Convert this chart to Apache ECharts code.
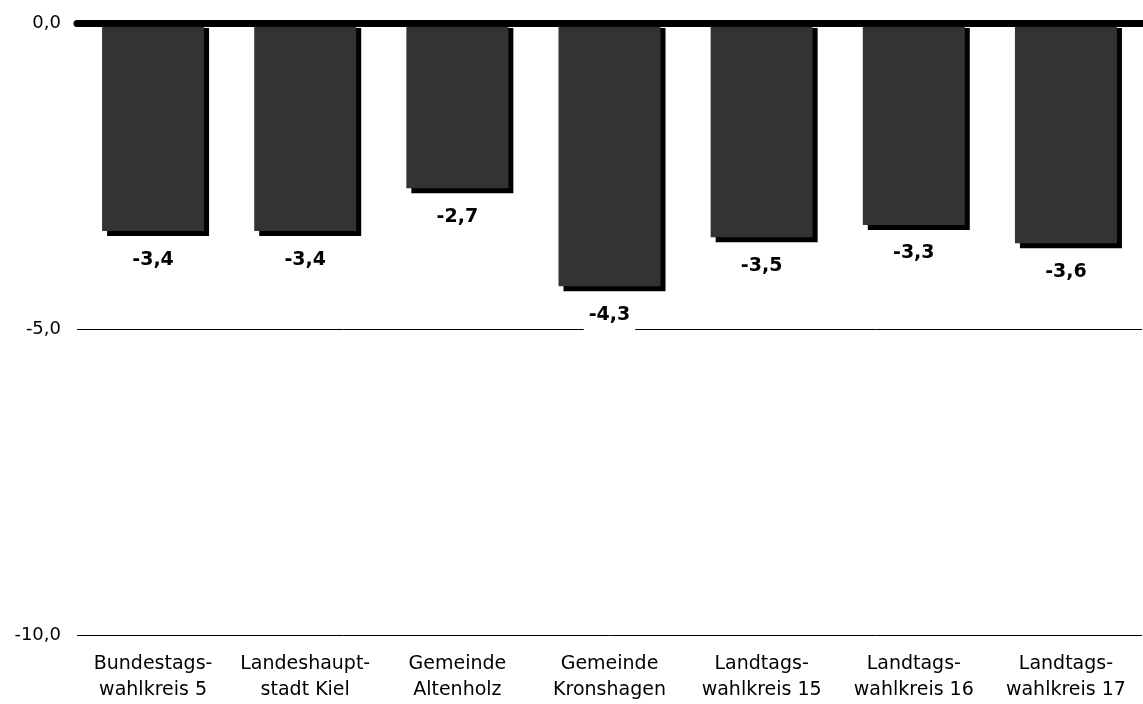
<!DOCTYPE html>
<html>
<head>
<meta charset="utf-8">
<script src="https://cdn.jsdelivr.net/npm/echarts@6/dist/echarts.min.js"></script>
<style>
html,body{margin:0;padding:0;background:#fff;}
#chart{width:1143px;height:704px;}
</style>
</head>
<body>
<div id="chart"></div>
<script>
const categories = ["Bundestags-\nwahlkreis 5", "Landeshaupt-\nstadt Kiel", "Gemeinde\nAltenholz", "Gemeinde\nKronshagen", "Landtags-\nwahlkreis 15", "Landtags-\nwahlkreis 16", "Landtags-\nwahlkreis 17"];
const values = [-3.4, -3.4, -2.7, -4.3, -3.5, -3.3, -3.6];
const yTicks = { min: -10, max: 0, interval: 5 };

const fmt = v => v.toFixed(1).replace('.', ',');
const font = "'DejaVu Sans', 'Liberation Sans', Arial, sans-serif";

const chart = echarts.init(document.getElementById('chart'));
chart.setOption({
  animation: false,
  backgroundColor: '#fff',
  grid: { left: 77, right: 1, top: 23, bottom: 69 },
  xAxis: {
    type: 'category',
    data: categories,
    axisLine: { show: false },
    axisTick: { show: false },
    axisLabel: { color: '#000', fontSize: 19, fontFamily: font, lineHeight: 26, margin: 16, interval: 0 }
  },
  yAxis: {
    type: 'value',
    min: yTicks.min, max: yTicks.max, interval: yTicks.interval,
    axisLine: { show: false },
    axisTick: { show: false },
    splitLine: { lineStyle: { color: '#000', width: 1 } },
    axisLabel: { color: '#000', fontSize: 18, fontFamily: font, margin: 16, formatter: v => fmt(v) }
  },
  series: [{
    type: 'bar',
    data: values,
    barWidth: 102,
    itemStyle: { color: '#333333', shadowColor: '#000', shadowOffsetX: 5, shadowOffsetY: 5, shadowBlur: 0 },
    label: {
      show: true, position: 'bottom', distance: 16,
      formatter: p => fmt(p.value),
      color: '#000', fontSize: 19, fontWeight: 'bold', fontFamily: font,
      backgroundColor: '#fff', padding: [3, 5, 12, 5]
    },
    markLine: {
      silent: true, symbol: 'none',
      label: { show: false },
      lineStyle: { color: '#000', width: 7, type: 'solid', cap: 'round' },
      data: [{ yAxis: 0 }]
    },
    z: 3
  }]
});
</script>
</body>
</html>
